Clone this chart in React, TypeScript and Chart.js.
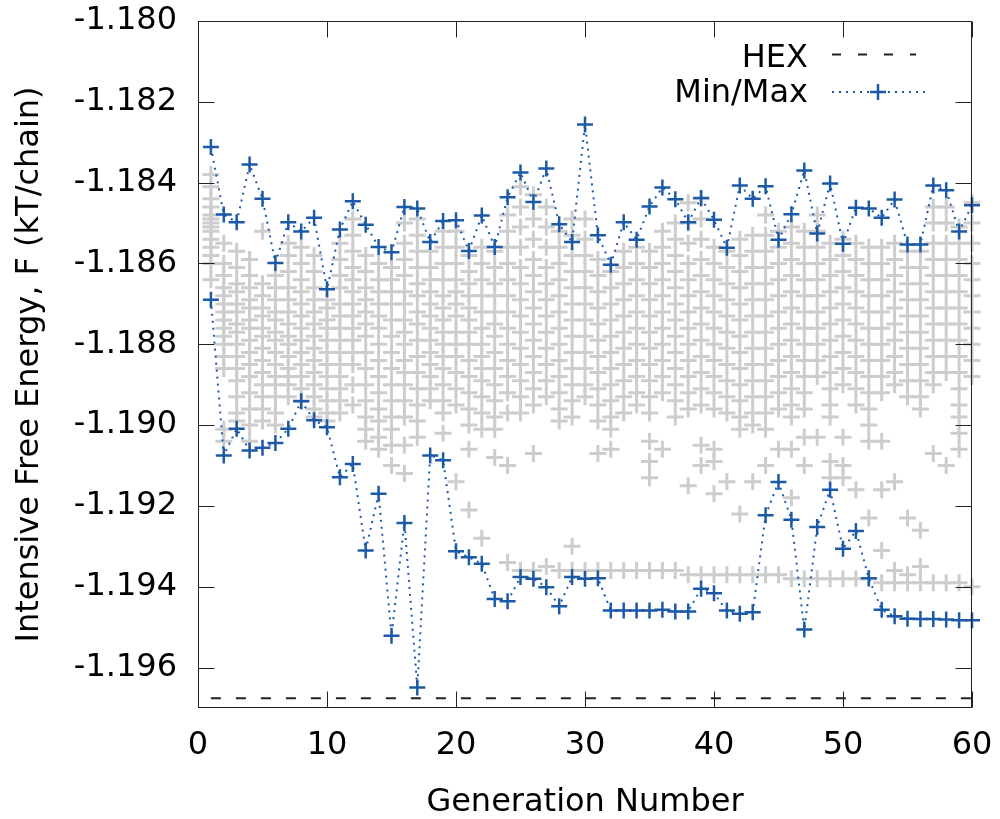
import React, { useEffect, useRef } from "react";
import { Chart, registerables } from "chart.js";

Chart.register(...registerables);

const FONT = "'DejaVu Sans', 'Liberation Sans', sans-serif";
const BLUE = "#1c5aa8";
const GRAY = "#cdcdcd";

const generations = [
  1, 2, 3, 4, 5, 6, 7, 8, 9, 10, 11, 12, 13, 14, 15, 16, 17, 18, 19, 20,
  21, 22, 23, 24, 25, 26, 27, 28, 29, 30, 31, 32, 33, 34, 35, 36, 37, 38, 39, 40,
  41, 42, 43, 44, 45, 46, 47, 48, 49, 50, 51, 52, 53, 54, 55, 56, 57, 58, 59, 60,
];

const maxValues = [
  -1.18312, -1.18479, -1.18498, -1.18355, -1.1844, -1.18599, -1.18498, -1.18521, -1.18487, -1.18664,
  -1.18516, -1.18446, -1.18504, -1.18559, -1.18572, -1.1846, -1.18464, -1.18547, -1.18495, -1.18493,
  -1.18569, -1.18481, -1.18559, -1.18436, -1.18375, -1.18448, -1.18365, -1.18503, -1.18547, -1.18256,
  -1.1853, -1.18603, -1.18498, -1.18541, -1.18459, -1.18412, -1.18441, -1.18498, -1.18438, -1.18492,
  -1.18561, -1.18407, -1.1844, -1.18409, -1.18541, -1.18478, -1.1837, -1.18526, -1.18402, -1.18551,
  -1.18462, -1.18464, -1.18487, -1.18442, -1.18553, -1.18553, -1.18407, -1.18419, -1.18521, -1.18456,
];

const minValues = [
  -1.1869, -1.19075, -1.19009, -1.19063, -1.19056, -1.19044, -1.19009, -1.18941, -1.18988, -1.19005,
  -1.19129, -1.19096, -1.1931, -1.1917, -1.19521, -1.19242, -1.19649, -1.19075, -1.19087, -1.19312,
  -1.19327, -1.19343, -1.1943, -1.19436, -1.19376, -1.1938, -1.19401, -1.19448, -1.19376, -1.1938,
  -1.19379, -1.19459, -1.19459, -1.19459, -1.19459, -1.19457, -1.19461, -1.19461, -1.19405, -1.19416,
  -1.19459, -1.19467, -1.19463, -1.19223, -1.19141, -1.19234, -1.19506, -1.19252, -1.1916, -1.19306,
  -1.19262, -1.19379, -1.19457, -1.19473, -1.19479, -1.1948, -1.1948, -1.19481, -1.19483, -1.19483,
];

const hexValue = -1.19676;
const hexGenerations = [1, 60];

// population (all individuals) per generation, row i = generation i+1
const populationValues: number[][] = [
  [-1.1838, -1.1841, -1.1844, -1.1846, -1.1848, -1.1849, -1.185, -1.1851, -1.1852, -1.1854, -1.1856, -1.1858, -1.186, -1.1864],
  [-1.1855, -1.186, -1.1863, -1.1866, -1.1868, -1.187, -1.1872, -1.1874, -1.1876, -1.1878, -1.188, -1.1883, -1.1886, -1.1901, -1.1904],
  [-1.1857, -1.1861, -1.1865, -1.1867, -1.187, -1.1872, -1.1875, -1.1877, -1.188, -1.1883, -1.1886, -1.1889, -1.1893, -1.1897, -1.1899],
  [-1.1859, -1.1863, -1.1866, -1.1869, -1.1871, -1.1874, -1.1876, -1.1879, -1.1882, -1.1885, -1.1888, -1.1892, -1.1896, -1.19, -1.1904],
  [-1.1852, -1.1865, -1.1868, -1.1871, -1.1873, -1.1876, -1.1878, -1.1881, -1.1884, -1.1887, -1.189, -1.1893, -1.1896, -1.1899],
  [-1.1863, -1.1866, -1.1869, -1.1872, -1.1874, -1.1877, -1.1879, -1.1882, -1.1885, -1.1888, -1.189, -1.1893, -1.1897, -1.19],
  [-1.1855, -1.1858, -1.1862, -1.1866, -1.1869, -1.1872, -1.1875, -1.1878, -1.188, -1.1883, -1.1886, -1.1888, -1.189, -1.1893],
  [-1.1856, -1.186, -1.1864, -1.1867, -1.187, -1.1873, -1.1876, -1.1879, -1.1882, -1.1885, -1.1888, -1.1891, -1.1894],
  [-1.1858, -1.1862, -1.1866, -1.1869, -1.1872, -1.1875, -1.1878, -1.1881, -1.1884, -1.1887, -1.189, -1.1893, -1.1896, -1.1898],
  [-1.1869, -1.1871, -1.1874, -1.1876, -1.1879, -1.1882, -1.1885, -1.1888, -1.1891, -1.1894, -1.1897, -1.1899],
  [-1.1855, -1.1859, -1.1863, -1.1866, -1.187, -1.1873, -1.1876, -1.1879, -1.1882, -1.1885, -1.1888, -1.1891, -1.1894, -1.1897],
  [-1.1849, -1.1853, -1.1857, -1.1861, -1.1864, -1.1867, -1.187, -1.1873, -1.1876, -1.1879, -1.1882, -1.1885, -1.189, -1.1895],
  [-1.1858, -1.1862, -1.1866, -1.1869, -1.1872, -1.1875, -1.1878, -1.1882, -1.1886, -1.189, -1.1894, -1.1898, -1.1901, -1.1904],
  [-1.186, -1.1864, -1.1867, -1.187, -1.1873, -1.1876, -1.188, -1.1884, -1.1888, -1.1892, -1.1896, -1.1899, -1.1903, -1.1906],
  [-1.1861, -1.1864, -1.1867, -1.187, -1.1874, -1.1878, -1.1882, -1.1886, -1.189, -1.1894, -1.1898, -1.1901, -1.1905, -1.191],
  [-1.185, -1.1855, -1.1859, -1.1863, -1.1867, -1.187, -1.1874, -1.1877, -1.188, -1.1884, -1.1887, -1.189, -1.1894, -1.1898, -1.1905, -1.1912],
  [-1.1849, -1.1853, -1.1857, -1.1861, -1.1865, -1.1868, -1.1872, -1.1875, -1.1879, -1.1883, -1.1887, -1.1891, -1.1895, -1.1899, -1.1903],
  [-1.1857, -1.1861, -1.1864, -1.1867, -1.187, -1.1873, -1.1876, -1.1879, -1.1882, -1.1885, -1.1888, -1.1891, -1.1894],
  [-1.1852, -1.1856, -1.186, -1.1864, -1.1868, -1.1871, -1.1874, -1.1877, -1.188, -1.1883, -1.1886, -1.189, -1.1894, -1.1897, -1.1902],
  [-1.1852, -1.1856, -1.186, -1.1864, -1.1867, -1.187, -1.1873, -1.1877, -1.188, -1.1883, -1.1887, -1.1891, -1.1895, -1.1914],
  [-1.1858, -1.1862, -1.1865, -1.1868, -1.1871, -1.1874, -1.1877, -1.188, -1.1884, -1.1888, -1.1892, -1.1896, -1.19, -1.1906, -1.1921],
  [-1.1856, -1.186, -1.1864, -1.1868, -1.1872, -1.1876, -1.188, -1.1883, -1.1886, -1.1889, -1.1893, -1.1897, -1.1901, -1.1928],
  [-1.1857, -1.1861, -1.1865, -1.1868, -1.1872, -1.1875, -1.1878, -1.1882, -1.1886, -1.189, -1.1894, -1.1898, -1.1901, -1.1908],
  [-1.1848, -1.1852, -1.1856, -1.186, -1.1864, -1.1868, -1.1872, -1.1876, -1.188, -1.1884, -1.1888, -1.1892, -1.1897, -1.191, -1.1934],
  [-1.1841, -1.1846, -1.1851, -1.1856, -1.1861, -1.1865, -1.1869, -1.1873, -1.1877, -1.1881, -1.1885, -1.1889, -1.1893, -1.1897, -1.1936],
  [-1.1843, -1.1849, -1.1854, -1.1859, -1.1863, -1.1867, -1.1871, -1.1875, -1.1879, -1.1883, -1.1887, -1.1891, -1.1895, -1.1907, -1.1936],
  [-1.1846, -1.1851, -1.1856, -1.1861, -1.1865, -1.1869, -1.1873, -1.1877, -1.1881, -1.1885, -1.1889, -1.1893, -1.1935],
  [-1.1852, -1.1856, -1.186, -1.1864, -1.1868, -1.1872, -1.1876, -1.188, -1.1884, -1.1888, -1.1892, -1.1896, -1.1899, -1.1936],
  [-1.1849, -1.1853, -1.1858, -1.1862, -1.1866, -1.187, -1.1874, -1.1878, -1.1882, -1.1886, -1.189, -1.1894, -1.1898, -1.193, -1.1936],
  [-1.1849, -1.1854, -1.1858, -1.1862, -1.1866, -1.187, -1.1874, -1.1878, -1.1882, -1.1886, -1.189, -1.1893, -1.1936],
  [-1.1859, -1.1863, -1.1867, -1.1871, -1.1875, -1.1879, -1.1883, -1.1887, -1.1891, -1.1895, -1.1899, -1.1907, -1.1936],
  [-1.1862, -1.1866, -1.187, -1.1874, -1.1878, -1.1882, -1.1886, -1.189, -1.1894, -1.1898, -1.1901, -1.1906, -1.1936],
  [-1.1857, -1.1861, -1.1865, -1.1869, -1.1873, -1.1877, -1.1881, -1.1885, -1.1889, -1.1893, -1.1897, -1.1936],
  [-1.1856, -1.186, -1.1864, -1.1868, -1.1872, -1.1876, -1.188, -1.1884, -1.1888, -1.1892, -1.1895, -1.1936],
  [-1.1857, -1.1861, -1.1865, -1.1869, -1.1873, -1.1877, -1.1881, -1.1885, -1.1889, -1.1893, -1.1897, -1.1904, -1.1909, -1.1913, -1.1936],
  [-1.1852, -1.1856, -1.186, -1.1864, -1.1868, -1.1872, -1.1876, -1.188, -1.1884, -1.1888, -1.1892, -1.1906, -1.1936],
  [-1.185, -1.1854, -1.1858, -1.1862, -1.1866, -1.187, -1.1874, -1.1878, -1.1882, -1.1886, -1.189, -1.1894, -1.1898, -1.1936],
  [-1.1845, -1.185, -1.1855, -1.186, -1.1864, -1.1868, -1.1872, -1.1876, -1.188, -1.1884, -1.1888, -1.1892, -1.1896, -1.1915, -1.1937],
  [-1.1844, -1.1849, -1.1854, -1.1859, -1.1863, -1.1867, -1.1871, -1.1875, -1.1879, -1.1883, -1.1887, -1.1891, -1.1895, -1.1905, -1.191, -1.1937],
  [-1.1856, -1.186, -1.1864, -1.1868, -1.1872, -1.1876, -1.188, -1.1884, -1.1888, -1.1892, -1.1896, -1.1906, -1.1909, -1.1917, -1.1937],
  [-1.1857, -1.1861, -1.1865, -1.1869, -1.1873, -1.1877, -1.1881, -1.1885, -1.1889, -1.1893, -1.1897, -1.1914, -1.1937],
  [-1.1854, -1.1858, -1.1862, -1.1866, -1.187, -1.1874, -1.1878, -1.1882, -1.1886, -1.189, -1.1894, -1.1898, -1.1901, -1.1922, -1.1937],
  [-1.1853, -1.1857, -1.1861, -1.1865, -1.1869, -1.1873, -1.1877, -1.1881, -1.1885, -1.1889, -1.1893, -1.1897, -1.19, -1.1914, -1.1937],
  [-1.1848, -1.1853, -1.1857, -1.1861, -1.1865, -1.1869, -1.1873, -1.1877, -1.1881, -1.1885, -1.1889, -1.1893, -1.1897, -1.1901, -1.191, -1.1937],
  [-1.1852, -1.1856, -1.186, -1.1864, -1.1868, -1.1872, -1.1876, -1.188, -1.1884, -1.1888, -1.1892, -1.1896, -1.1906, -1.1937],
  [-1.1851, -1.1855, -1.1859, -1.1863, -1.1867, -1.1871, -1.1875, -1.1879, -1.1883, -1.1887, -1.1891, -1.1895, -1.1898, -1.1906, -1.1918, -1.1938],
  [-1.1852, -1.1856, -1.186, -1.1864, -1.1868, -1.1872, -1.1876, -1.188, -1.1884, -1.1888, -1.1892, -1.1896, -1.1903, -1.191, -1.1938],
  [-1.1848, -1.1852, -1.1856, -1.186, -1.1864, -1.1868, -1.1872, -1.1876, -1.188, -1.1884, -1.1888, -1.1903, -1.1938],
  [-1.1855, -1.1859, -1.1863, -1.1867, -1.1871, -1.1875, -1.1879, -1.1883, -1.1887, -1.1891, -1.1895, -1.1898, -1.1909, -1.1913, -1.1938],
  [-1.1854, -1.1858, -1.1862, -1.1866, -1.187, -1.1874, -1.1878, -1.1882, -1.1886, -1.189, -1.1903, -1.191, -1.1913, -1.1938],
  [-1.1855, -1.1859, -1.1863, -1.1867, -1.1871, -1.1875, -1.1879, -1.1883, -1.1887, -1.1891, -1.1895, -1.1916, -1.1938],
  [-1.1856, -1.186, -1.1864, -1.1868, -1.1872, -1.1876, -1.188, -1.1884, -1.1888, -1.1892, -1.1896, -1.19, -1.1904, -1.1923, -1.1938],
  [-1.1856, -1.186, -1.1864, -1.1868, -1.1872, -1.1876, -1.188, -1.1884, -1.1888, -1.1892, -1.1904, -1.1916, -1.1931, -1.1939],
  [-1.1855, -1.1859, -1.1863, -1.1867, -1.1871, -1.1875, -1.1879, -1.1883, -1.1887, -1.189, -1.1914, -1.1936, -1.1939],
  [-1.1857, -1.1861, -1.1865, -1.1869, -1.1873, -1.1877, -1.1881, -1.1885, -1.1889, -1.1893, -1.1923, -1.1937, -1.1939],
  [-1.1857, -1.1861, -1.1865, -1.1869, -1.1873, -1.1877, -1.1881, -1.1885, -1.1889, -1.1893, -1.1896, -1.1926, -1.1935, -1.1939],
  [-1.1846, -1.185, -1.1855, -1.1859, -1.1863, -1.1867, -1.1871, -1.1875, -1.1879, -1.1883, -1.1887, -1.189, -1.1907, -1.1939],
  [-1.1846, -1.185, -1.1855, -1.1859, -1.1863, -1.1867, -1.1871, -1.1875, -1.1879, -1.1883, -1.1887, -1.191, -1.1939],
  [-1.1851, -1.1855, -1.1859, -1.1863, -1.1867, -1.1871, -1.1875, -1.1879, -1.1883, -1.1887, -1.1891, -1.1895, -1.1898, -1.1902, -1.1906, -1.1939],
  [-1.1845, -1.185, -1.1855, -1.186, -1.1864, -1.1868, -1.1872, -1.1876, -1.188, -1.1884, -1.1888, -1.194],
];

const xTickValues = [0, 10, 20, 30, 40, 50, 60];
const yTickValues = [-1.196, -1.194, -1.192, -1.19, -1.188, -1.186, -1.184, -1.182, -1.18];

const xTitle = "Generation Number";
const yTitle = "Intensive Free Energy, F (kT/chain)";
const legendLabels = ["HEX", "Min/Max"];

const framePlugin = {
  id: "gnuFrame",
  afterDraw(chart: any) {
    const { ctx, chartArea: a, scales } = chart;
    const xs = scales.x;
    const ys = scales.y;
    ctx.save();
    ctx.strokeStyle = "#222";
    ctx.lineWidth = 1;
    const L = Math.round(a.left) + 0.5;
    const R = Math.round(a.right) - 0.5;
    const T = Math.round(a.top) + 0.5;
    const B = Math.round(a.bottom) - 0.5;
    ctx.strokeRect(L, T, R - L, B - T);
    const tl = 16;
    ctx.beginPath();
    for (const v of yTickValues) {
      const py = Math.round(ys.getPixelForValue(v)) + 0.5;
      ctx.moveTo(L, py);
      ctx.lineTo(L + tl, py);
      ctx.moveTo(R, py);
      ctx.lineTo(R - tl, py);
    }
    for (const v of xTickValues) {
      const px = Math.round(xs.getPixelForValue(v)) + 0.5;
      ctx.moveTo(px, B);
      ctx.lineTo(px, B - tl);
      ctx.moveTo(px, T);
      ctx.lineTo(px, T + tl);
    }
    ctx.stroke();

    // legend (top right, gnuplot style)
    const textRight = a.right - 164;
    const sampleL = a.right - 140;
    ctx.font = `32px ${FONT}`;
    ctx.fillStyle = "#000";
    ctx.textAlign = "right";
    ctx.textBaseline = "alphabetic";
    ctx.fillText(legendLabels[0], textRight, a.top + 46);
    ctx.fillText(legendLabels[1], textRight, a.top + 81);

    ctx.strokeStyle = "#222";
    ctx.lineWidth = 2;
    ctx.setLineDash([9, 17]);
    ctx.beginPath();
    ctx.moveTo(sampleL, a.top + 33.5);
    ctx.lineTo(sampleL + 84, a.top + 33.5);
    ctx.stroke();

    ctx.strokeStyle = BLUE;
    ctx.lineWidth = 2;
    ctx.setLineDash([2, 5]);
    ctx.beginPath();
    ctx.moveTo(sampleL, a.top + 71);
    ctx.lineTo(sampleL + 96, a.top + 71);
    ctx.stroke();
    ctx.setLineDash([]);
    ctx.lineWidth = 2.5;
    const cx = sampleL + 46;
    const cy = a.top + 71;
    ctx.beginPath();
    ctx.moveTo(cx - 8, cy);
    ctx.lineTo(cx + 8, cy);
    ctx.moveTo(cx, cy - 8);
    ctx.lineTo(cx, cy + 8);
    ctx.stroke();
    ctx.restore();
  },
};

export default function App() {
  const canvasRef = useRef<HTMLCanvasElement | null>(null);

  useEffect(() => {
    document.body.style.margin = "0";
    const canvas = canvasRef.current;
    if (!canvas) return;

    const grayPoints = populationValues.flatMap((row, i) =>
      row.map((v) => ({ x: generations[i], y: v }))
    );
    const maxPoints = generations.map((g, i) => ({ x: g, y: maxValues[i] }));
    const minPoints = generations.map((g, i) => ({ x: g, y: minValues[i] }));
    const hexPoints = hexGenerations.map((g) => ({ x: g, y: hexValue }));

    const blueLine = {
      type: "line" as const,
      showLine: true,
      borderColor: BLUE,
      backgroundColor: BLUE,
      borderWidth: 2,
      borderDash: [2, 5],
      pointStyle: "cross" as const,
      pointRadius: 8,
      pointBorderWidth: 2.5,
      pointBorderColor: BLUE,
      tension: 0,
      clip: false as const,
    };

    const chart = new Chart(canvas, {
      type: "scatter",
      data: {
        datasets: [
          { ...blueLine, label: "Max", data: maxPoints, order: 0 },
          { ...blueLine, label: "Min", data: minPoints, order: 1 },
          {
            type: "line",
            label: "HEX",
            data: hexPoints,
            showLine: true,
            borderColor: "#222",
            borderWidth: 2,
            borderDash: [10, 15],
            pointRadius: 0,
            order: 2,
          },
          {
            type: "scatter",
            label: "Population",
            data: grayPoints,
            showLine: false,
            pointStyle: "cross",
            pointRadius: 8.5,
            pointBorderWidth: 3,
            pointBorderColor: GRAY,
            borderColor: GRAY,
            backgroundColor: GRAY,
            clip: false,
            order: 3,
          },
        ],
      },
      options: {
        responsive: false,
        animation: false,
        devicePixelRatio: 1,
        layout: { padding: { top: 21, right: 28, left: 0, bottom: 0 } },
        plugins: {
          legend: { display: false },
          tooltip: { enabled: false },
        },
        scales: {
          x: {
            type: "linear",
            min: 0,
            max: 60,
            afterBuildTicks: (s: any) => {
              s.ticks = xTickValues.map((v) => ({ value: v }));
            },
            afterFit: (s: any) => {
              s.height = 111;
              s.paddingLeft = 0;
              s.paddingRight = 0;
            },
            grid: { display: false, drawTicks: false },
            border: { display: false },
            ticks: {
              autoSkip: false,
              maxRotation: 0,
              padding: 22,
              color: "#000",
              font: { family: FONT, size: 32, lineHeight: 1 },
              callback: (v: any) => String(v),
            },
            title: {
              display: true,
              text: xTitle,
              color: "#000",
              font: { family: FONT, size: 32, lineHeight: 1 },
              padding: { top: 0, bottom: 0 },
            },
          },
          y: {
            type: "linear",
            min: -1.197,
            max: -1.18,
            afterBuildTicks: (s: any) => {
              s.ticks = yTickValues.map((v) => ({ value: v }));
            },
            afterFit: (s: any) => {
              s.width = 198;
              s.paddingTop = 0;
              s.paddingBottom = 0;
            },
            grid: { display: false, drawTicks: false },
            border: { display: false },
            ticks: {
              autoSkip: false,
              padding: 21,
              color: "#000",
              font: { family: FONT, size: 32, lineHeight: 1 },
              callback: (v: any) => Number(v).toFixed(3),
            },
            title: {
              display: true,
              text: yTitle,
              color: "#000",
              font: { family: FONT, size: 32, lineHeight: 1 },
              padding: { top: 14, bottom: 0 },
            },
          },
        },
      },
      plugins: [framePlugin],
    } as any);

    return () => chart.destroy();
  }, []);

  return (
    <div style={{ width: 1000, height: 819, background: "#fff" }}>
      <canvas ref={canvasRef} width={1000} height={819} style={{ display: "block" }} />
    </div>
  );
}
